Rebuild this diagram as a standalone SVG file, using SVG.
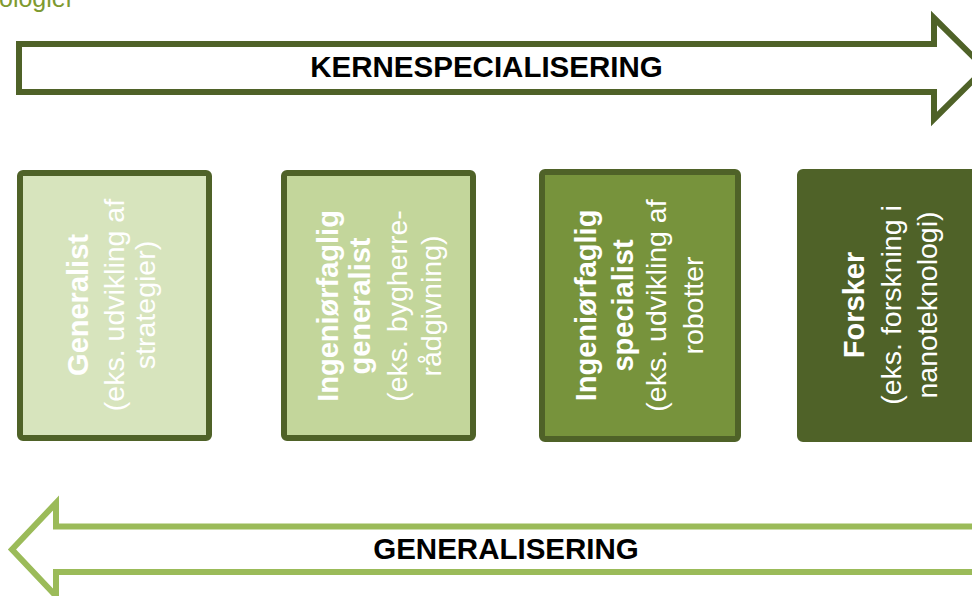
<svg xmlns="http://www.w3.org/2000/svg" width="972" height="596" viewBox="0 0 972 596">
  <style>
    .frame { stroke: #4F6228; stroke-width: 6; stroke-linejoin: miter; }
    .band { fill: #FFFFFF; stroke-width: 6; stroke-linejoin: miter; stroke-miterlimit: 10; }
    .band-title { font-family: "Liberation Sans", Arial, sans-serif; font-weight: bold; font-size: 29.5px; fill: #000000; text-anchor: middle; }
    .role { font-family: "Liberation Sans", Arial, sans-serif; fill: #FFFFFF; text-anchor: middle; }
    .role .b { font-weight: bold; font-size: 29px; }
    .role .r { font-size: 28.5px; }
    .caption { font-family: "Liberation Sans", Arial, sans-serif; font-size: 25px; fill: #7E9A30; }
  </style>

  <rect x="0" y="0" width="972" height="596" fill="#FFFFFF"/>

  <!-- caption running off the top edge -->
  <text class="caption" x="-1" y="7">ologier</text>

  <!-- direction bands -->
  <g id="arrows">
    <g id="arrow-kernespecialisering">
      <path class="band" stroke="#4F6228" d="M19,44 L934,44 L934,18 L985,68.5 L934,119 L934,92 L19,92 Z"/>
      <text class="band-title" x="486.5" y="77">KERNESPECIALISERING</text>
    </g>
    <g id="arrow-generalisering">
      <path class="band" stroke="#9BBB59" d="M995,526.5 L56,526.5 L56,503 L12,549.5 L56,596 L56,572 L995,572 Z"/>
      <text class="band-title" x="506" y="559">GENERALISERING</text>
    </g>
  </g>

  <!-- role boxes, text set vertically (reading upwards) -->
  <g id="node-generalist">
    <rect class="frame" x="20" y="173" width="189" height="265" rx="3" fill="#D7E4BD"/>
    <g class="role" transform="translate(0,305) rotate(-90)">
      <text class="b" x="0" y="88">Generalist</text>
      <text class="r" x="0" y="124">(eks. udvikling af</text>
      <text class="r" x="0" y="155">strategier)</text>
    </g>
  </g>

  <g id="node-ingenioerfaglig-generalist">
    <rect class="frame" x="284" y="173" width="189" height="265" rx="3" fill="#C3D69B"/>
    <g class="role" transform="translate(0,306) rotate(-90)">
      <text class="b" x="0" y="338">Ingeniørfaglig</text>
      <text class="b" x="0" y="370">generalist</text>
      <text class="r" x="0" y="407">(eks. bygherre-</text>
      <text class="r" x="0" y="441">rådgivning)</text>
    </g>
  </g>

  <g id="node-ingenioerfaglig-specialist">
    <rect class="frame" x="542" y="172" width="196" height="267" rx="3" fill="#77933C"/>
    <g class="role" transform="translate(0,305.5) rotate(-90)">
      <text class="b" x="0" y="596">Ingeniørfaglig</text>
      <text class="b" x="0" y="633">specialist</text>
      <text class="r" x="0" y="666">(eks. udvikling af</text>
      <text class="r" x="0" y="703">robotter</text>
    </g>
  </g>

  <g id="node-forsker">
    <rect class="frame" x="800" y="172" width="200" height="267" rx="3" fill="#4F6228"/>
    <g class="role" transform="translate(0,305) rotate(-90)">
      <text class="b" x="0" y="864">Forsker</text>
      <text class="r" x="0" y="901">(eks. forskning i</text>
      <text class="r" x="0" y="937">nanoteknologi)</text>
    </g>
  </g>
</svg>
